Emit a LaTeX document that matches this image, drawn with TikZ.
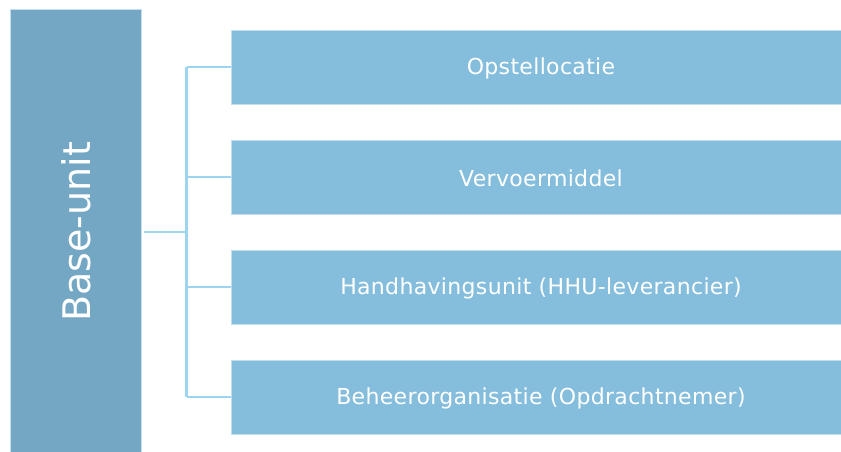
\documentclass[tikz,border=0pt]{standalone}
\usepackage{fontspec}
\setmainfont{DejaVu Sans}
\definecolor{basefill}{HTML}{74A7C3}
\definecolor{itemfill}{HTML}{85BDDC}
\definecolor{edgeline}{HTML}{C2DFF0}
\definecolor{linkline}{HTML}{9DD5F1}
\begin{document}
\begin{tikzpicture}[x=1pt,y=-1pt,
  basebox/.style={draw=edgeline,line width=0.8pt,fill=basefill,minimum width=131pt,minimum height=444pt,inner sep=0pt},
  itembox/.style={draw=edgeline,line width=0.8pt,fill=itemfill,minimum width=612pt,minimum height=74pt,inner sep=0pt},
  itemtext/.style={text=white,font=\fontsize{22}{26}\selectfont\addfontfeatures{LetterSpace=1.5}},
  link/.style={draw=linkline,line width=2.2pt}]
\useasboundingbox (0,0) rectangle (841,451);
\begin{scope}
\clip (0,0) rectangle (841,451);
\node[basebox] (base) at (75.5,231) {};
\node[itembox] (i1) at (537,67) {};
\node[itembox] (i2) at (537,177) {};
\node[itembox] (i3) at (537,287) {};
\node[itembox] (i4) at (537,397) {};
\end{scope}
\node[itemtext] (t1) at ([shift={(4,1.5)}]i1.center) {Opstellocatie};
\node[itemtext] (t2) at ([shift={(4,1.5)}]i2.center) {Vervoermiddel};
\node[itemtext] (t3) at ([shift={(4,1.5)}]i3.center) {Handhavingsunit (HHU-leverancier)};
\node[itemtext] (t4) at ([shift={(4,1.5)}]i4.center) {Beheerorganisatie (Opdrachtnemer)};
\node[text=white,rotate=90,font=\fontsize{38}{44}\selectfont] (basetxt) at (76,232) {Base-unit};
\coordinate (j) at (186.5,232);
\coordinate (jt) at (186.5,67);
\coordinate (jb) at (186.5,397);
\draw[link] (144,232) -- (j);
\draw[link] (jt) -- (jb);
\draw[link] (jt) -- (i1.west);
\draw[link] (186.5,177) -- (i2.west);
\draw[link] (186.5,287) -- (i3.west);
\draw[link] (jb) -- (i4.west);
\end{tikzpicture}
\end{document}
